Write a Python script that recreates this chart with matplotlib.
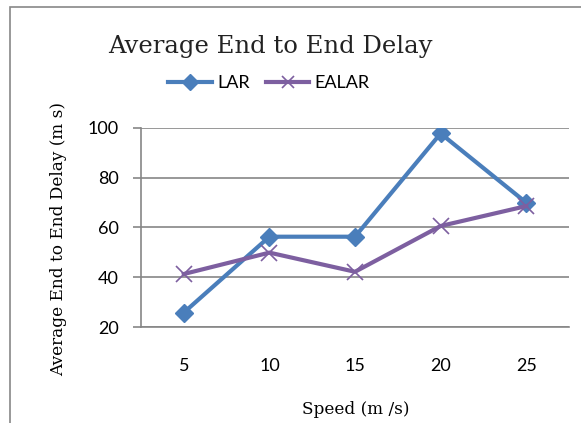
import matplotlib
matplotlib.use("Agg")
import matplotlib.pyplot as plt
from matplotlib.patches import Rectangle

categories = ["5", "10", "15", "20", "25"]
lar = [25.8, 56.3, 56.3, 97.8, 70.0]
ealar = [41.3, 49.9, 42.2, 60.6, 68.6]
yticks = [20, 40, 60, 80, 100]

title = "Average End to End Delay"
xlabel = "Speed (m /s)"
ylabel = "Average End to End Delay (m s)"

W, H = 581, 423
fig = plt.figure(figsize=(W / 100, H / 100), dpi=100)
ax = fig.add_axes([141 / W, 1 - 327 / H, (569 - 141) / W, (327 - 128) / H])

blue = "#4A7EBB"
purple = "#7D5FA0"
grid = "#868686"
xs = list(range(len(categories)))

ax.plot(xs, lar, color=blue, lw=3.0, marker="D", ms=9, mec=blue, mfc=blue,
        label="LAR", zorder=3)
ax.plot(xs, ealar, color=purple, lw=3.0, marker="x", ms=11, mew=1.2,
        label="EALAR", zorder=3)

ax.set_xlim(-0.5, len(categories) - 0.5)
ax.set_ylim(20, 100)
ax.set_yticks(yticks)
ax.set_xticks(xs)
ax.set_xticklabels(categories)
ax.yaxis.grid(True, color=grid, lw=1.2)
ax.set_axisbelow(True)
for s in ["top", "right"]:
    ax.spines[s].set_visible(False)
for s in ["left", "bottom"]:
    ax.spines[s].set_color(grid)
    ax.spines[s].set_linewidth(1.2)
ax.tick_params(axis="y", length=6, width=1.2, color=grid, pad=10,
               labelsize=13)
ax.tick_params(axis="x", length=0, pad=22, labelsize=13)
for lab in ax.get_xticklabels() + ax.get_yticklabels():
    lab.set_fontfamily("Lato")

fig.text(270 / W, 1 - 47 / H, title, ha="center", va="center",
         fontsize=17.5, family="DejaVu Serif", color="#222222")
fig.text(356 / W, 1 - 409 / H, xlabel, ha="center", va="center",
         fontsize=12.2, family="DejaVu Serif")
fig.text(59 / W, 1 - 239 / H, ylabel, ha="center", va="center",
         rotation=90, fontsize=12.2, family="DejaVu Serif")

leg = fig.legend(loc="center", bbox_to_anchor=(269 / W, 1 - 83 / H),
                 ncol=2, frameon=False, prop={"family": "Lato", "size": 13},
                 handlelength=2.4, columnspacing=0.9, handletextpad=0.3,
                 markerscale=0.85)

fig.patches.append(Rectangle((10 / W, -0.05), 1.2, 1 - 7 / H + 0.05,
                             transform=fig.transFigure, fill=False,
                             ec="#888888", lw=1.2))

fig.savefig("out.png", dpi=100)
